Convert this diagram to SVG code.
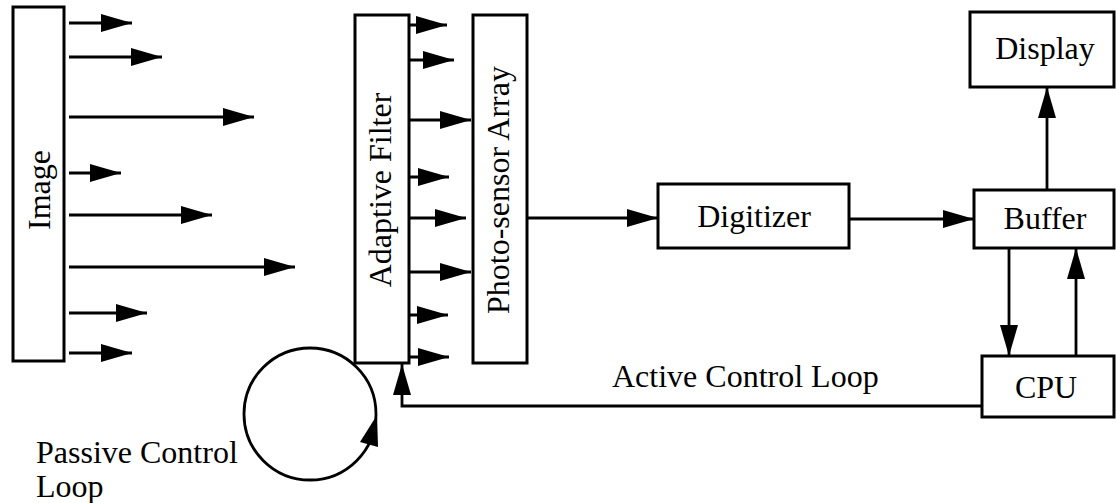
<svg xmlns="http://www.w3.org/2000/svg" width="1116" height="503" viewBox="0 0 1116 503">
<style>
.box{fill:#fff;stroke:#000;stroke-width:3}
.ln{fill:none;stroke:#000;stroke-width:2.8}
.ar{fill:none;stroke:#000;stroke-width:2.8;marker-end:url(#ah)}
text{font-family:"Liberation Serif","Times New Roman",serif;font-size:32px;fill:#000}
.c{text-anchor:middle}
</style>
<defs>
<marker id="ah" markerUnits="userSpaceOnUse" markerWidth="31" markerHeight="18" refX="31" refY="9" orient="auto">
<path d="M0,0 L31,9 L0,18 z" fill="#000"/>
</marker>
</defs>
<rect width="1116" height="503" fill="#fff"/>
<g id="image">
<rect class="box" x="13" y="7" width="51" height="354"/>
<text class="c" transform="translate(50,190) rotate(-90)">Image</text>
</g>
<g id="adaptive-filter">
<rect class="box" x="355" y="15" width="54" height="348"/>
<text class="c" transform="translate(391,190) rotate(-90)">Adaptive Filter</text>
</g>
<g id="photo-sensor">
<rect class="box" x="473" y="15" width="54" height="348"/>
<text class="c" transform="translate(509,190) rotate(-90)">Photo-sensor Array</text>
</g>
<g id="digitizer">
<rect class="box" x="658" y="184" width="191" height="64"/>
<text class="c" x="754" y="227">Digitizer</text>
</g>
<g id="buffer">
<rect class="box" x="974" y="190" width="140" height="58"/>
<text class="c" x="1045" y="229">Buffer</text>
</g>
<g id="display">
<rect class="box" x="970" y="12" width="144" height="75"/>
<text class="c" x="1045" y="59">Display</text>
</g>
<g id="cpu">
<rect class="box" x="982" y="356" width="132" height="61"/>
<text class="c" x="1046" y="398">CPU</text>
</g>
<g id="passive-loop">
<circle class="ln" cx="310" cy="414" r="66"/>
<polygon points="377,415 360,442 378,447" fill="#000"/>
<text x="36" y="463">Passive Control</text>
<text x="36" y="497">Loop</text>
</g>
<g id="connectors">
<line class="ar" x1="69" y1="23" x2="132" y2="23"/>
<line class="ar" x1="69" y1="57" x2="162" y2="57"/>
<line class="ar" x1="69" y1="117" x2="254" y2="117"/>
<line class="ar" x1="69" y1="173" x2="121" y2="173"/>
<line class="ar" x1="69" y1="215" x2="212" y2="215"/>
<line class="ar" x1="69" y1="267" x2="295" y2="267"/>
<line class="ar" x1="69" y1="313" x2="147" y2="313"/>
<line class="ar" x1="69" y1="353" x2="132" y2="353"/>
<line class="ar" x1="409" y1="25" x2="447" y2="25"/>
<line class="ar" x1="409" y1="60" x2="454" y2="60"/>
<line class="ar" x1="409" y1="120" x2="471" y2="120"/>
<line class="ar" x1="409" y1="177" x2="449" y2="177"/>
<line class="ar" x1="409" y1="218" x2="466" y2="218"/>
<line class="ar" x1="409" y1="272" x2="471" y2="272"/>
<line class="ar" x1="409" y1="315" x2="448" y2="315"/>
<line class="ar" x1="409" y1="357" x2="449" y2="357"/>
<line class="ar" x1="527" y1="218" x2="658" y2="218"/>
<line class="ar" x1="849" y1="219" x2="974" y2="219"/>
<line class="ar" x1="1047" y1="190" x2="1047" y2="87"/>
<line class="ar" x1="1009" y1="248" x2="1009" y2="356"/>
<line class="ar" x1="1076" y1="356" x2="1076" y2="248"/>
<polyline class="ar" points="982,406 402,406 402,364"/>
<text x="612" y="387">Active Control Loop</text>
</g>
</svg>
